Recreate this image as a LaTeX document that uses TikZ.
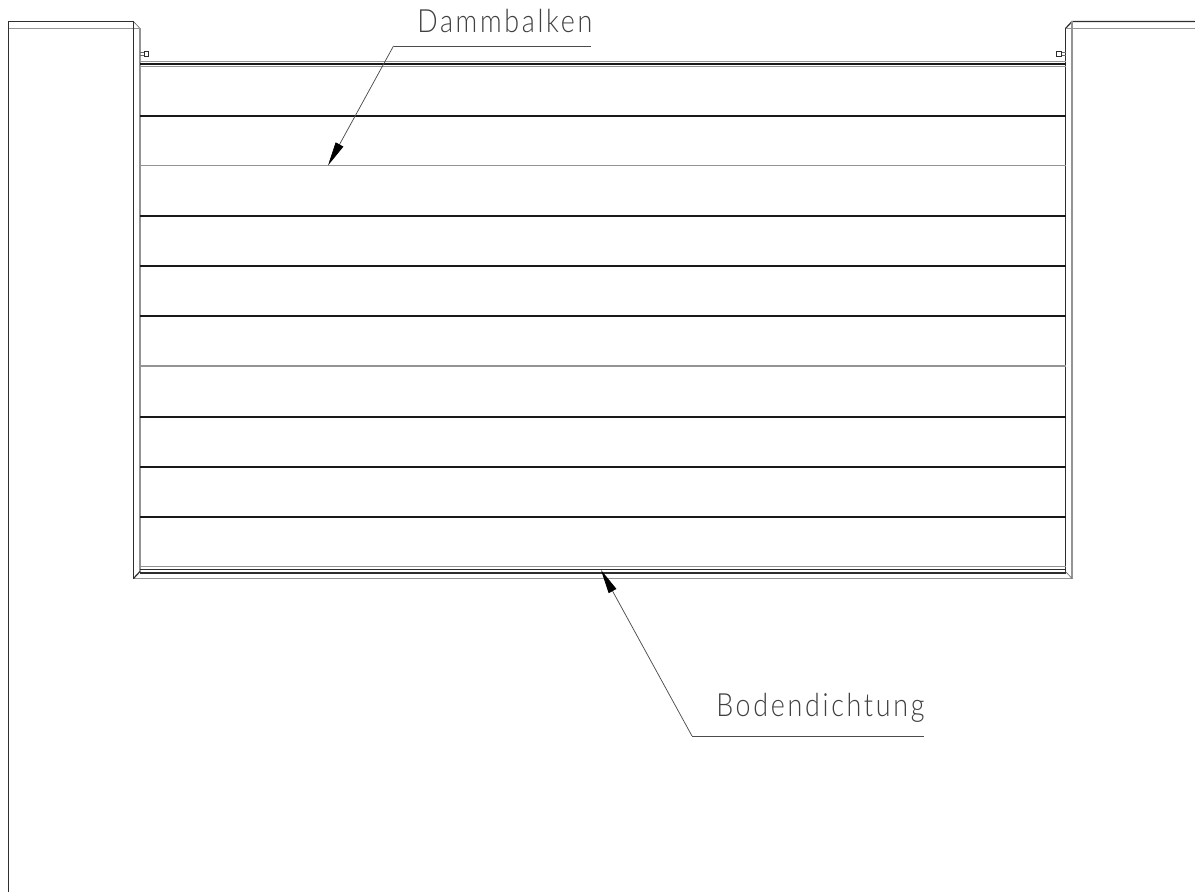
\documentclass[tikz,border=0pt]{standalone}
\usepackage{fontspec}
\newfontfamily\cadfont[LetterSpace=8.4,FakeStretch=0.84,UprightFont=* Light]{Lato}
\usetikzlibrary{arrows.meta}
\tikzset{
  x=0.75pt,y=-0.75pt,
  dark/.style={draw=black!82,line width=0.9pt},
  heavy/.style={draw=black!90,line width=1.35pt},
  grey/.style={draw=black!42,line width=1.2pt},
  thin line/.style={draw=black!60,line width=0.45pt},
  leader/.style={draw=black!70,line width=0.55pt},
  leadarrow/.style={leader,-{Triangle[length=18pt,width=6.5pt,black]}},
  cadlabel/.style={inner sep=0pt,anchor=base west,text=black!75,font=\cadfont\fontsize{24pt}{24pt}\selectfont},
}
\begin{document}
\begin{tikzpicture}
\useasboundingbox[fill=white] (0,0) rectangle (1195,892);
% left wall
\draw[dark] (8.5,892) -- (8.5,21.5) -- (133.5,21.5);
\draw[grey] (8.5,28.5) -- (140,28.5);
\draw[thin line] (133.5,21.5) -- (140,28.5);
\draw[dark] (133.5,21.5) -- (133.5,578.5);
\draw[grey] (140,28.5) -- (140,571.5);
% right wall
\draw[dark] (1195,21.5) -- (1072,21.5) -- (1065.5,28.5);
\draw[grey] (1195,28.5) -- (1065.5,28.5);
\draw[dark] (1065.5,28.5) -- (1065.5,571.5);
\draw[grey] (1072,21.5) -- (1072,578.5);
% bottom
\draw[grey] (133.5,578.5) -- (1072,578.5);
\draw[dark] (133.5,578.5) -- (140,571.5);
\draw[thin line] (1065.5,571.5) -- (1072,578.5);
\draw[grey] (140,566.5) -- (1065.5,566.5);
\draw[dark] (140,569.7) -- (1065.5,569.7);
\draw[dark] (140,573) -- (1065.5,573);
% top of beams
\draw[grey] (140,61.5) -- (1065.5,61.5);
\draw[heavy] (140,64) -- (1065.5,64);
\draw[grey] (140,66.5) -- (1065.5,66.5);
% beams
\foreach \yy in {116,216,266,316,417,467,517}
  \draw[heavy] (140,\yy) -- (1065.5,\yy);
\draw[grey] (140,165.5) -- (1065.5,165.5);
\draw[grey] (140,366) -- (1065.5,366);
% bolts
\draw[thin line] (140,52.5) -- (144,52.5) (140,55.5) -- (144,55.5);
\draw[dark,line width=0.5pt] (144,51.5) rectangle (148.5,56.5);
\draw[thin line] (1065.5,52.5) -- (1061,52.5) (1065.5,55.5) -- (1061,55.5);
\draw[dark,line width=0.5pt] (1056.5,51.5) rectangle (1061,56.5);
% labels
\node[cadlabel] (damm) at (417,33) {Dammbalken};
\node[cadlabel] (boden) at (716,716) {Bodendichtung};
\coordinate (d0) at (591,46);
\coordinate (d1) at (393.5,46);
\coordinate (d2) at (328,165.5);
\coordinate (b0) at (924,736);
\coordinate (b1) at (692,736);
\coordinate (b2) at (601,570);
\draw[leader] (d0) -- (d1);
\draw[leadarrow] (d1) -- (d2);
\draw[leader] (b0) -- (b1);
\draw[leadarrow] (b1) -- (b2);
\end{tikzpicture}
\end{document}
